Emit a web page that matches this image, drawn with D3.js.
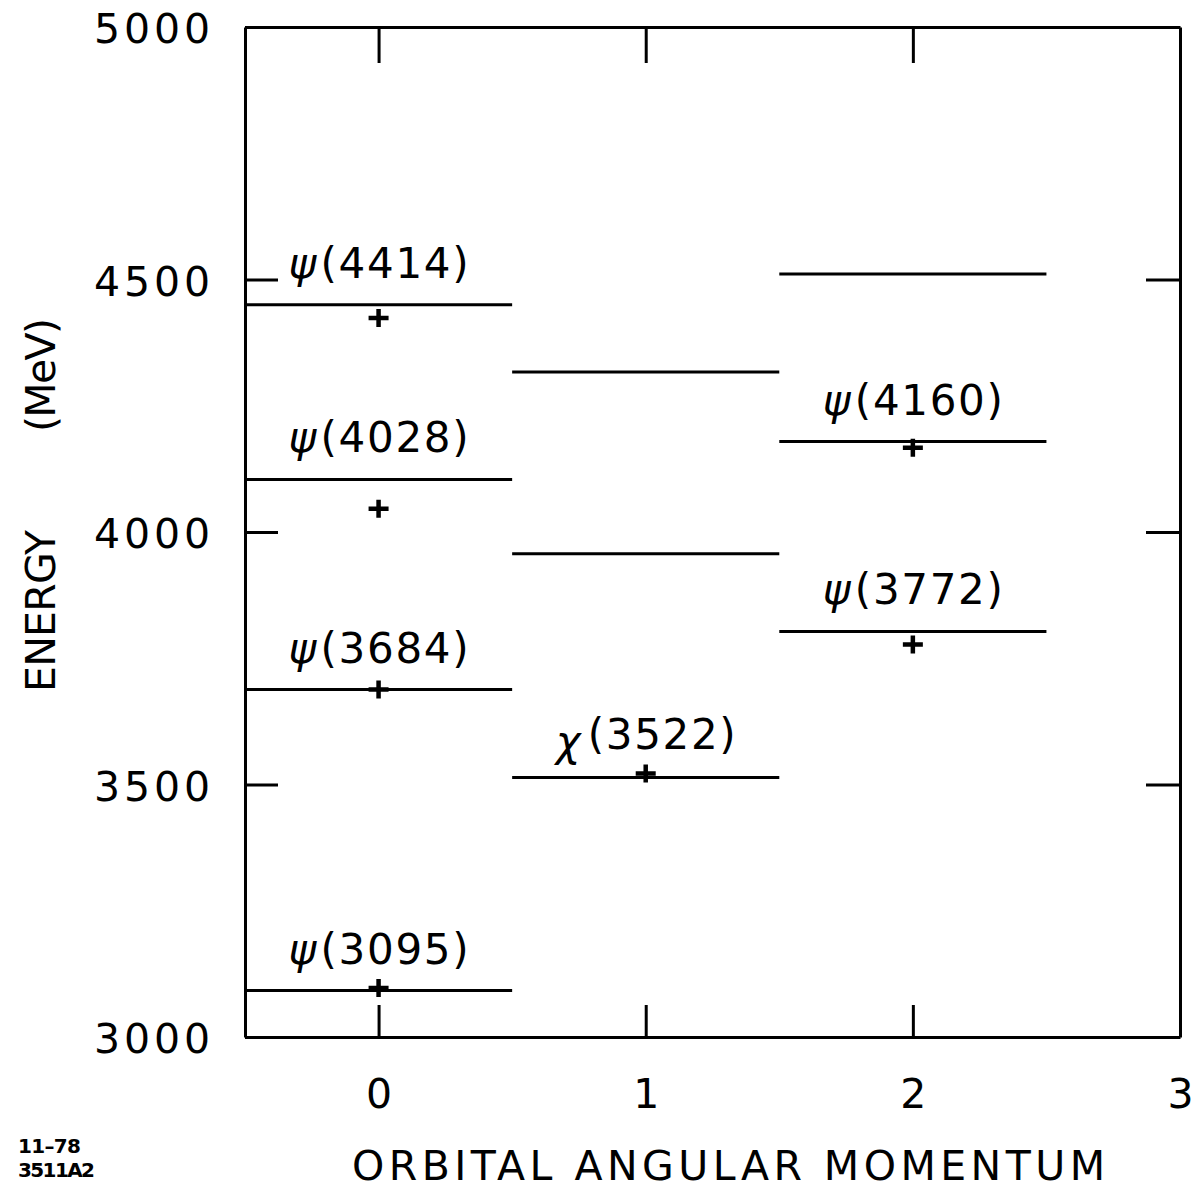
<!DOCTYPE html>
<html>
<head>
<meta charset="utf-8">
<script src="https://cdn.jsdelivr.net/npm/d3@7"></script>
<style>
  body { margin: 0; background: #fff; }
  text { font-family: "DejaVu Sans", sans-serif; fill: #000; }
</style>
</head>
<body>
<div id="chart"></div>
<script>
// theory levels (potential model), one per L
var theoryL    = [0, 0, 0, 0, 1, 1, 1, 2, 2, 2];
var theoryMass = [3092, 3688, 4104, 4450, 3514, 3957, 4317, 3803, 4179, 4511];

// measured states
var expL     = [0, 0, 0, 0, 1, 2, 2];
var expMass  = [3097, 3688, 4046, 4424, 3522, 3777, 4167];
var expSym   = ["ψ", "ψ", "ψ", "ψ", "χ", "ψ", "ψ"];
var expName  = ["3095", "3684", "4028", "4414", "3522", "3772", "4160"];
var expLevel = [3092, 3688, 4104, 4450, 3514, 3803, 4179]; // line each label sits on

var yTicks = [3000, 3500, 4000, 4500, 5000];
var xTicks = [0, 1, 2, 3];

var width = 1201, height = 1193;

var x = d3.scaleLinear().domain([-0.5, 3]).range([245, 1180]);
var y = d3.scaleLinear().domain([3000, 5000]).range([1037, 27]);

var svg = d3.select("#chart").append("svg")
    .attr("width", width)
    .attr("height", height);

function styleAxis(g) {
    g.selectAll("path, line").attr("stroke", "#000").attr("stroke-width", 3);
    g.selectAll("text")
        .attr("font-family", "DejaVu Sans")
        .attr("font-size", 41)
        .attr("fill", "#000");
}

// frame + ticks (ticks point inward)
svg.append("g")
    .attr("transform", "translate(" + x(-0.5) + ",0)")
    .call(d3.axisLeft(y).tickValues(yTicks).tickSizeInner(-33).tickSizeOuter(0).tickPadding(35).tickFormat(d3.format("d")))
    .call(styleAxis)
    .call(function (g) {
        g.selectAll("text").attr("dy", "0.38em").attr("textLength", 116).attr("lengthAdjust", "spacing");
    });

svg.append("g")
    .attr("transform", "translate(" + x(3) + ",0)")
    .call(d3.axisRight(y).tickValues(yTicks).tickSizeInner(-34).tickSizeOuter(0).tickFormat(""))
    .call(styleAxis);

svg.append("g")
    .attr("transform", "translate(0," + y(5000) + ")")
    .call(d3.axisTop(x).tickValues([0, 1, 2]).tickSizeInner(-36).tickSizeOuter(0).tickFormat(""))
    .call(styleAxis);

svg.append("g")
    .attr("transform", "translate(0," + y(3000) + ")")
    .call(d3.axisBottom(x).tickValues(xTicks).tickSizeInner(-32).tickSizeOuter(0).tickPadding(42).tickFormat(d3.format("d")))
    .call(styleAxis);

// theory levels
svg.append("g").selectAll("line")
    .data(theoryMass)
    .enter().append("line")
    .attr("x1", function (d, i) { return x(theoryL[i] - 0.5); })
    .attr("x2", function (d, i) { return x(theoryL[i] + 0.5); })
    .attr("y1", function (d) { return y(d); })
    .attr("y2", function (d) { return y(d); })
    .attr("stroke", "#000")
    .attr("stroke-width", 3);

// measured masses as crosses
svg.append("g").selectAll("path")
    .data(expMass)
    .enter().append("path")
    .attr("d", function (d, i) {
        var cx = x(expL[i]), cy = y(d);
        return "M" + (cx - 10) + "," + cy + "h20M" + cx + "," + (cy - 9) + "v18";
    })
    .attr("stroke", "#000")
    .attr("stroke-width", 4.5);

// labels
var labels = svg.append("g").selectAll("g")
    .data(expName)
    .enter().append("g")
    .attr("transform", function (d, i) {
        return "translate(" + (x(expL[i]) - 90) + "," + (y(expLevel[i]) - 27) + ")";
    });

labels.append("text")
    .attr("font-size", 42)
    .attr("font-style", "italic")
    .attr("dy", function (d, i) { return expSym[i] === "χ" ? 6 : 0; })
    .text(function (d, i) { return expSym[i]; });

labels.append("text")
    .attr("x", 32)
    .attr("dy", function (d, i) { return expSym[i] === "χ" ? -1 : 0; })
    .attr("font-size", 42)
    .attr("textLength", 148)
    .attr("lengthAdjust", "spacing")
    .text(function (d) { return "(" + d + ")"; });

// axis titles
svg.append("text")
    .attr("x", 352)
    .attr("y", 1180)
    .attr("font-size", 41)
    .attr("textLength", 753)
    .attr("lengthAdjust", "spacing")
    .text("ORBITAL  ANGULAR  MOMENTUM");

svg.append("text")
    .attr("transform", "translate(55,611) rotate(-90)")
    .attr("text-anchor", "middle")
    .attr("font-size", 41)
    .attr("textLength", 162)
    .attr("lengthAdjust", "spacing")
    .text("ENERGY");

svg.append("text")
    .attr("transform", "translate(55,375) rotate(-90)")
    .attr("text-anchor", "middle")
    .attr("font-size", 41)
    .attr("textLength", 114)
    .attr("lengthAdjust", "spacing")
    .text("(MeV)");

// plate number
svg.append("text")
    .attr("x", 18).attr("y", 1153)
    .attr("font-family", "Liberation Sans")
    .attr("font-weight", "bold")
    .attr("font-size", 20)
    .attr("textLength", 63)
    .text("11–78");

svg.append("text")
    .attr("x", 18).attr("y", 1177)
    .attr("font-family", "Liberation Sans")
    .attr("font-weight", "bold")
    .attr("font-size", 20)
    .attr("textLength", 77)
    .text("3511A2");
</script>
</body>
</html>
